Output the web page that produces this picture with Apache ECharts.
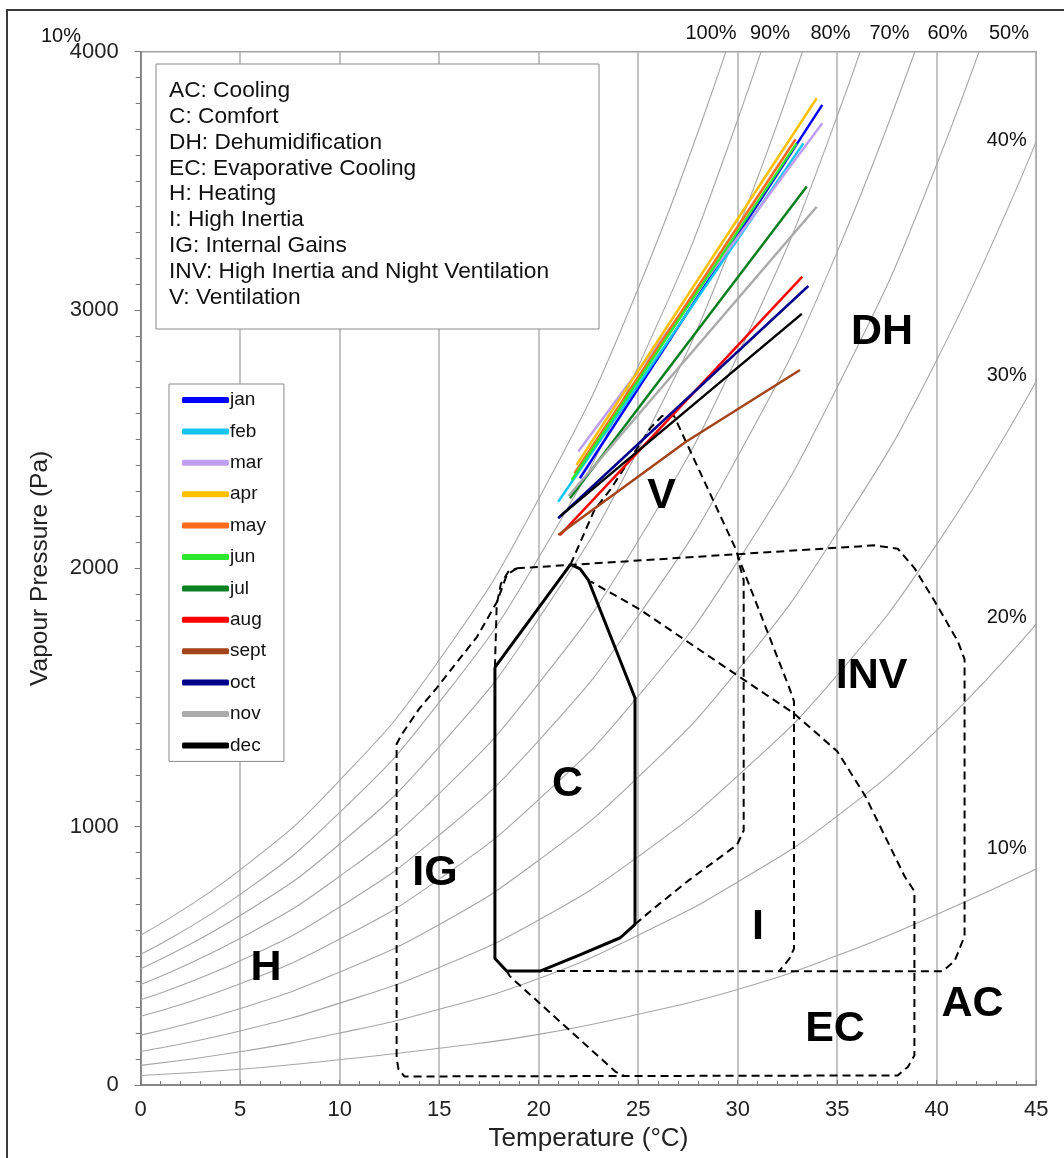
<!DOCTYPE html>
<html>
<head>
<meta charset="utf-8">
<script src="https://cdn.jsdelivr.net/npm/echarts@6/dist/echarts.min.js"></script>
<style>
html,body{margin:0;padding:0;background:#fff;}
#chart{width:1064px;height:1158px;}
</style>
</head>
<body>
<div id="chart"></div>
<script>
// ---------- DATA ----------
const tempGrid = [0, 5, 10, 15, 20, 25, 30, 35, 40, 45];
const rh10  = [37, 61, 98, 142, 196, 274, 370, 501, 660, 836];
const rh20  = [76, 129, 201, 293, 412, 580, 786, 1041, 1373, 1784];
const rh30  = [130, 209, 317, 455, 639, 884, 1197, 1587, 2093, 2724];
const rh40  = [193, 296, 437, 621, 870, 1192, 1605, 2139, 2806, 3653];
const rh50  = [266, 392, 565, 797, 1105, 1505, 2027, 2701, 3563, 4653];
const rh60  = [330, 481, 689, 967, 1333, 1816, 2433, 3225, 4244];
const rh70  = [389, 568, 808, 1128, 1555, 2107, 2824, 3750, 4921];
const rh80  = [450, 656, 933, 1309, 1806, 2459, 3312, 4412];
const rh90  = [506, 738, 1055, 1481, 2042, 2781, 3737, 4954];
const rh100 = [580, 833, 1179, 1645, 2269, 3083, 4140];
const rhCurves = [rh10, rh20, rh30, rh40, rh50, rh60, rh70, rh80, rh90, rh100];

const months = ['jan','feb','mar','apr','may','jun','jul','aug','sept','oct','nov','dec'];
const monthColors = ['#0000ff','#14c4f2','#be9ef0','#ffc000','#ff6a1c','#2ee82e','#0a8020','#ff0000','#a4441a','#00008c','#aaaaaa','#000000'];
const jan  = [[22.07, 2349], [34.25, 3794]];
const feb  = [[20.98, 2258], [33.3, 3645]];
const mar  = [[21.99, 2452], [34.25, 3723]];
const apr  = [[21.9, 2400], [33.97, 3820]];
const may  = [[21.8, 2368], [32.91, 3661]];
const jun  = [[21.66, 2342], [32.96, 3645]];
const jul  = [[21.57, 2271], [33.47, 3478]];
const aug  = [[21.07, 2129], [33.25, 3129]];
const sept = [[20.98, 2129], [27.4, 2490], [33.13, 2768]];
const oct  = [[20.98, 2194], [33.55, 3093]];
const nov  = [[21.5, 2280], [33.97, 3400]];
const dec  = [[21.1, 2203], [33.22, 2985]];
const monthLines = [jan, feb, mar, apr, may, jun, jul, aug, sept, oct, nov, dec];

// zone boundaries [T, Pa]
const zoneComfort = [[17.8,1617],[21.6,2015],[22.08,1998],[22.5,1954],[24.84,1498],[24.84,622],[24.1,570],[22.1,505],[20.07,441],[18.39,441],[17.8,490],[17.8,1617]];
const zoneIgEc = [[18.9,2000],[18.4,1975],[17.9,1870],[16.9,1735],[14.8,1530],[14.0,1457],[13.1,1355],[12.86,1320],[12.86,105],[12.95,62],[13.25,33],[38.04,37],[38.55,70],[38.88,114],[38.88,750],[38.4,806],[36.4,1120],[35.0,1292],[32.8,1440],[29.9,1590],[25.1,1840],[22.6,1950]];
const zoneInv = [[18.9,2000],[30.0,2055],[36.86,2089],[38.04,2076],[38.88,2001],[40.06,1852],[41.07,1716],[41.4,1648],[41.4,576],[40.9,480],[40.3,440],[20.07,441]];
const zoneIgInner = [[17.8,1617],[17.89,1860],[18.1,1940],[18.47,1987],[18.9,2000]];
const zoneVent = [[21.6,2015],[22.8,2226],[23.6,2305],[25.6,2542],[26.2,2590],[26.8,2590],[29.9,2075],[30.0,2050],[32.58,1540],[32.83,1485],[32.83,528],[32.58,487],[32.07,440]];
const zoneInertia = [[24.84,622],[25.6,672],[27.5,790],[29.97,930],[30.3,985],[30.3,1955],[30.1,2010],[30.0,2050]];
const zoneDiag = [[18.39,441],[18.56,420],[23.85,52],[24.3,35]];
const dashedZones = [zoneIgEc, zoneInv, zoneIgInner, zoneVent, zoneInertia, zoneDiag];

const zoneNames = ['DH','INV','V','C','IG','H','I','EC','AC'];
const zoneLabelT = [37.25, 36.73, 26.18, 21.45, 14.79, 6.3, 31.02, 34.89, 41.8];
const zoneLabelP = [2915, 1583, 2280, 1165, 821, 453, 612, 217, 314];

const keyLines = ['AC: Cooling','C: Comfort','DH: Dehumidification','EC: Evaporative Cooling','H: Heating','I: High Inertia','IG: Internal Gains','INV: High Inertia and Night Ventilation','V: Ventilation'];
const topRhLabels = ['100%','90%','80%','70%','60%','50%'];
const sideRhLabels = ['40%','30%','20%','10%'];

// ---------- CHART ----------
const FONT = '"Liberation Sans", Arial, Helvetica, sans-serif';
const chart = echarts.init(document.getElementById('chart'), null, {renderer:'canvas'});
const series = [];

rhCurves.forEach((arr, i) => {
  series.push({
    type:'line', name:'rh'+(i+1)*10, silent:true, smooth:true, showSymbol:false, symbol:'none',
    data: arr.map((p, k) => [tempGrid[k], p]),
    lineStyle:{color:'#a6a6a6', width:1.1}, z:2
  });
});

dashedZones.forEach((arr, i) => {
  series.push({
    type:'line', name:'zone'+i, silent:true, showSymbol:false, symbol:'none',
    data: arr, lineStyle:{color:'#000', width:2, type:[8,5]}, z:3
  });
});
series.push({
  type:'line', name:'comfort', silent:true, showSymbol:false, symbol:'none',
  data: zoneComfort, lineStyle:{color:'#000', width:3}, z:4
});

months.forEach((m, i) => {
  series.push({
    type:'line', name:m, silent:true, showSymbol:false, symbol:'none',
    color: monthColors[i],
    data: monthLines[i], lineStyle:{color:monthColors[i], width:2.5}, z:5
  });
});

series.push({
  type:'scatter', name:'labels', silent:true, symbol:'circle', symbolSize:2,
  itemStyle:{color:'rgba(255,255,255,0)'},
  data: zoneNames.map((n, i) => ({name:n, value:[zoneLabelT[i], zoneLabelP[i]]})),
  label:{show:true, position:'inside', formatter:'{b}', fontSize:43, fontWeight:'bold', color:'#000', opacity:1, textBorderWidth:0, fontFamily:FONT},
  z:6
});

const graphics = [];
graphics.push({type:'polyline', shape:{points:[[7,1160],[7,10],[1066,10]]}, style:{stroke:'#3a3a3a', lineWidth:2, fill:null}, z:1});
graphics.push({type:'rect', shape:{x:156, y:64, width:443, height:265}, style:{fill:'#fff', stroke:'#8a8a8a', lineWidth:1}, z:10});
keyLines.forEach((t, i) => {
  graphics.push({type:'text', x:169, y:91 + i*25.8, style:{text:t, fontSize:22.7, fontFamily:FONT, fill:'#111', textVerticalAlign:'middle', textAlign:'left'}, z:11});
});
const topX = [711, 770, 830.5, 889.5, 947.5, 1009];
topRhLabels.forEach((t, i) => {
  graphics.push({type:'text', x:topX[i], y:33, style:{text:t, fontSize:20, fontFamily:FONT, fill:'#111', textAlign:'center', textVerticalAlign:'middle'}, z:11});
});
const sideY = [140, 375, 617, 848];
sideRhLabels.forEach((t, i) => {
  graphics.push({type:'text', x:1006.7, y:sideY[i], style:{text:t, fontSize:20, fontFamily:FONT, fill:'#111', textAlign:'center', textVerticalAlign:'middle'}, z:11});
});
graphics.push({type:'text', x:61, y:36, style:{text:'10%', fontSize:20, fontFamily:FONT, fill:'#111', textAlign:'center', textVerticalAlign:'middle'}, z:11});

chart.setOption({
  animation:false,
  backgroundColor:'#fff',
  textStyle:{fontFamily:FONT},
  grid:{left:140.7, top:51.7, width:895.5, height:1033.3, show:true, borderColor:'#a0a0a0', borderWidth:1.5, backgroundColor:'rgba(0,0,0,0)'},
  xAxis:{
    type:'value', min:0, max:45, interval:5,
    axisLine:{show:true, onZero:false, lineStyle:{color:'#7a7a7a', width:1.5}},
    axisTick:{show:true, inside:true, length:5, lineStyle:{color:'#7a7a7a', width:1}},
    minorTick:{show:true, splitNumber:5, length:4, lineStyle:{color:'#7a7a7a', width:1}},
    splitLine:{show:true, lineStyle:{color:'#b0b0b0', width:1.5}},
    axisLabel:{fontSize:22, color:'#222', margin:14, fontFamily:FONT},
    name:'Temperature (°C)', nameLocation:'middle', nameGap:40,
    nameTextStyle:{fontSize:26, color:'#222', fontFamily:FONT}
  },
  yAxis:{
    type:'value', min:0, max:4000, interval:1000,
    axisLine:{show:true, onZero:false, lineStyle:{color:'#7a7a7a', width:1.5}},
    axisTick:{show:true, inside:false, length:6, lineStyle:{color:'#7a7a7a', width:1}},
    minorTick:{show:true, splitNumber:10, length:5, lineStyle:{color:'#7a7a7a', width:1}},
    splitLine:{show:false},
    axisLabel:{fontSize:22, color:'#222', margin:22, fontFamily:FONT, formatter:function(v){return String(v);}},
    name:'Vapour Pressure (Pa)', nameLocation:'middle', nameGap:88, nameRotate:90,
    nameTextStyle:{fontSize:24.5, color:'#222', fontFamily:FONT}
  },
  legend:{
    data:months, orient:'vertical', left:169, top:384, selectedMode:false,
    padding:[6,18,6,13], itemGap:11.4, itemWidth:47, itemHeight:6, icon:'roundRect',
    backgroundColor:'#fff', borderColor:'#8a8a8a', borderWidth:1,
    textStyle:{fontSize:19, color:'#111', lineHeight:20, padding:[0,0,0,-4], fontFamily:FONT}
  },
  series: series,
  graphic: graphics
});
</script>
</body>
</html>
